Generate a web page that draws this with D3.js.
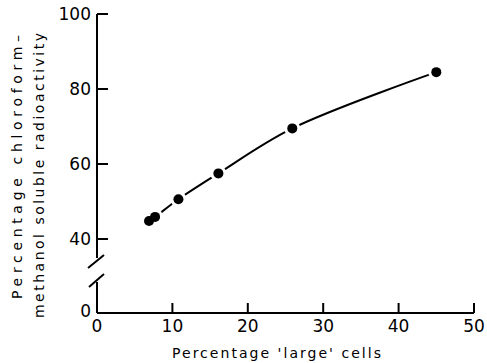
<!DOCTYPE html>
<html>
<head>
<meta charset="utf-8">
<script src="https://cdn.jsdelivr.net/npm/d3@7"></script>
<style>
  body { margin: 0; background: #fff; }
  text { font-family: "DejaVu Sans", sans-serif; fill: #000; }
</style>
</head>
<body>
<svg id="chart"></svg>
<script>
// Data
const largeCells = [6.9, 7.7, 10.8, 16.1, 25.9, 45.0]
const chloroformSoluble = [44.8, 45.9, 50.6, 57.5, 69.5, 84.5]
const xTicks = [0, 10, 20, 30, 40, 50]
const yTicks = [40, 60, 80, 100]

const width = 487
const height = 363
const svg = d3.select('#chart')
    .attr('width', width)
    .attr('height', height)

const axisX = 97
const axisY = 313

// x scale
const x = d3.scaleLinear().domain([0, 50]).range([axisX, 474])
// y scale for the upper part (above the break)
const y = d3.scaleLinear().domain([40, 100]).range([239, 14])

const axes = svg.append('g')
    .attr('stroke', '#000')
    .attr('stroke-width', 2)
    .attr('fill', 'none')

// x axis line
axes.append('line')
    .attr('x1', axisX).attr('x2', x(50))
    .attr('y1', axisY).attr('y2', axisY)

// y axis, broken between 0 and 40
axes.append('line')
    .attr('x1', axisX).attr('x2', axisX)
    .attr('y1', y(100)).attr('y2', 258)
axes.append('line')
    .attr('x1', axisX).attr('x2', axisX)
    .attr('y1', 282).attr('y2', axisY)

// break marks
axes.append('line').attr('x1', 88).attr('y1', 268).attr('x2', 104).attr('y2', 255)
axes.append('line').attr('x1', 89).attr('y1', 287).attr('x2', 104).attr('y2', 274)

// x ticks (pointing inward)
axes.selectAll('.xt').data(xTicks.slice(1))
    .enter().append('line')
    .attr('x1', d => x(d)).attr('x2', d => x(d))
    .attr('y1', axisY).attr('y2', axisY - 10)

// y ticks
axes.selectAll('.yt').data(yTicks)
    .enter().append('line')
    .attr('x1', axisX).attr('x2', axisX + 11)
    .attr('y1', d => y(d)).attr('y2', d => y(d))

// tick labels
svg.selectAll('.xl').data(xTicks)
    .enter().append('text')
    .attr('x', d => x(d))
    .attr('y', 332)
    .attr('text-anchor', 'middle')
    .attr('font-size', 17)
    .text(d => d)

svg.selectAll('.yl').data(yTicks)
    .enter().append('text')
    .attr('x', 91)
    .attr('y', d => y(d) + 6)
    .attr('text-anchor', 'end')
    .attr('font-size', 17)
    .text(d => d)

svg.append('text')
    .attr('x', 91)
    .attr('y', axisY + 4)
    .attr('text-anchor', 'end')
    .attr('font-size', 17)
    .text('0')

// axis titles
svg.append('text')
    .attr('x', 172).attr('y', 358)
    .attr('font-size', 14)
    .attr('textLength', 209)
    .text("Percentage 'large' cells")

svg.append('text')
    .attr('transform', 'translate(22,299) rotate(-90)')
    .attr('font-size', 14)
    .attr('textLength', 264)
    .text('Percentage chloroform\u2013')

svg.append('text')
    .attr('transform', 'translate(44,318) rotate(-90)')
    .attr('font-size', 14)
    .attr('textLength', 285)
    .text('methanol soluble radioactivity')

// curve through the points
const pts = largeCells.map((v, i) => [v, chloroformSoluble[i]])
const line = d3.line()
    .x(d => x(d[0]))
    .y(d => y(d[1]))
    .curve(d3.curveCatmullRom)

svg.append('path')
    .datum(pts)
    .attr('d', line)
    .attr('fill', 'none')
    .attr('stroke', '#000')
    .attr('stroke-width', 2)

// white halo so the line stops short of each dot
svg.selectAll('.halo').data(pts)
    .enter().append('circle')
    .attr('cx', d => x(d[0]))
    .attr('cy', d => y(d[1]))
    .attr('r', 8)
    .attr('fill', '#fff')

svg.selectAll('.dot').data(pts)
    .enter().append('circle')
    .attr('cx', d => x(d[0]))
    .attr('cy', d => y(d[1]))
    .attr('r', 5)
    .attr('fill', '#000')
</script>
</body>
</html>
